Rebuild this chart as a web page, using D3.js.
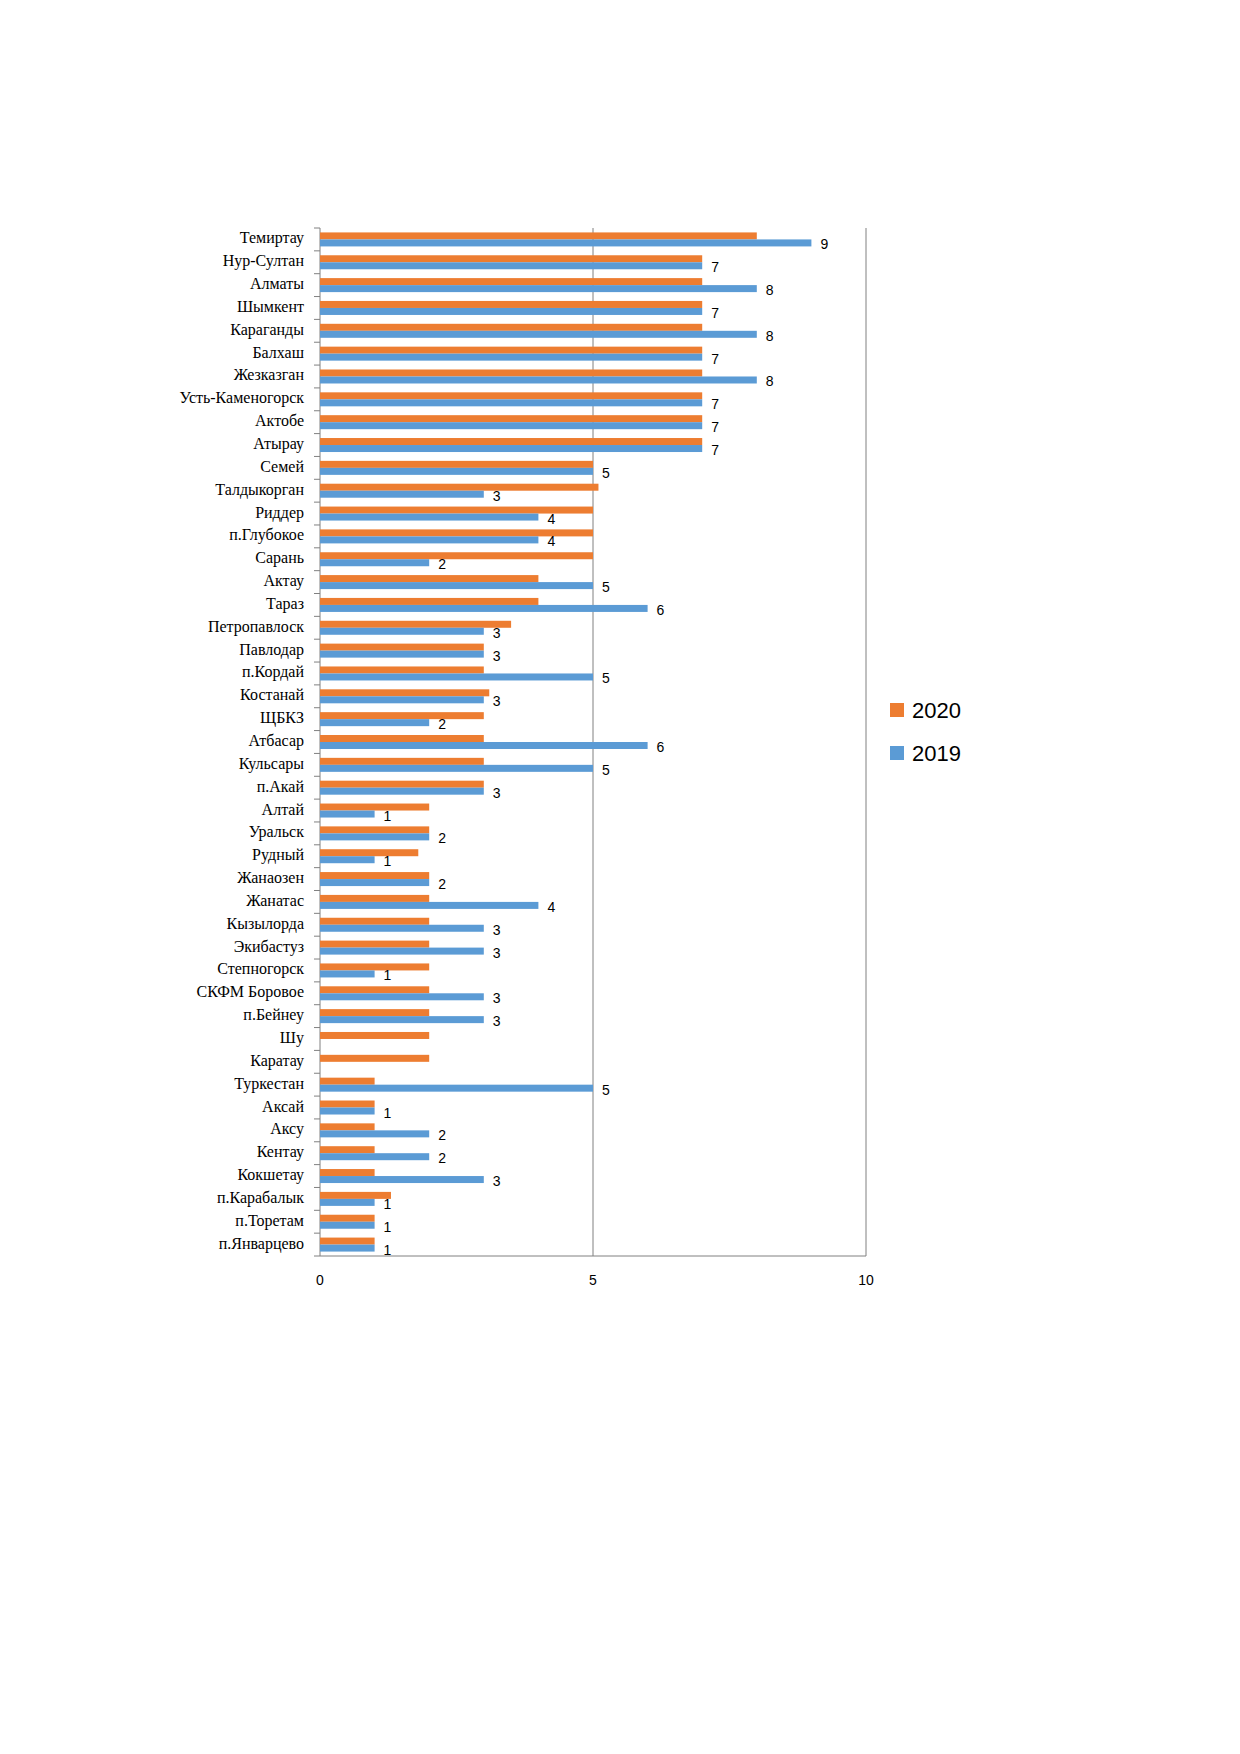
<!DOCTYPE html><html><head><meta charset="utf-8">
<script src="https://cdn.jsdelivr.net/npm/d3@7"></script>
<style>body{margin:0;background:#fff}</style></head><body><svg id="c" width="1240" height="1754"></svg>
<script>
const categories=["Темиртау","Нур-Султан","Алматы","Шымкент","Караганды","Балхаш","Жезказган","Усть-Каменогорск","Актобе","Атырау","Семей","Талдыкорган","Риддер","п.Глубокое","Сарань","Актау","Тараз","Петропавлоск","Павлодар","п.Кордай","Костанай","ЩБКЗ","Атбасар","Кульсары","п.Акай","Алтай","Уральск","Рудный","Жанаозен","Жанатас","Кызылорда","Экибастуз","Степногорск","СКФМ  Боровое","п.Бейнеу","Шу","Каратау","Туркестан","Аксай","Аксу","Кентау","Кокшетау","п.Карабалык","п.Торетам","п.Январцево"];
const v2020=[8,7,7,7,7,7,7,7,7,7,5,5.1,5,5,5,4,4,3.5,3,3,3.1,3,3,3,3,2,2,1.8,2,2,2,2,2,2,2,2,2,1,1,1,1,1,1.3,1,1];
const v2019=[9,7,8,7,8,7,8,7,7,7,5,3,4,4,2,5,6,3,3,5,3,2,6,5,3,1,2,1,2,4,3,3,1,3,3,null,null,5,1,2,2,3,1,1,1];
const ticks=[0,5,10];
const svg=d3.select("#c");
const x=d3.scaleLinear().domain([0,10]).range([320,866]);
const y=d3.scaleBand().domain(categories).range([228,1256]);
const bh=7;
svg.selectAll(".g").data(ticks).join("line").attr("x1",d=>x(d)).attr("x2",d=>x(d)).attr("y1",228).attr("y2",1256).attr("stroke","#808080").attr("stroke-width",1);
svg.append("line").attr("x1",320).attr("x2",866).attr("y1",1256).attr("y2",1256).attr("stroke","#808080");
svg.selectAll(".t").data(categories.concat(["_end"])).join("line").attr("x1",314).attr("x2",320)
 .attr("y1",(d,i)=>228+i*y.step()).attr("y2",(d,i)=>228+i*y.step()).attr("stroke","#808080");
categories.forEach((c,i)=>{
 const yc=y(c)+y.bandwidth()/2;
 svg.append("rect").attr("x",x(0)).attr("y",yc-bh).attr("width",x(v2020[i])-x(0)).attr("height",bh).attr("fill","#ED7D31");
 if(v2019[i]!=null){
  svg.append("rect").attr("x",x(0)).attr("y",yc).attr("width",x(v2019[i])-x(0)).attr("height",bh).attr("fill","#5B9BD5");
  svg.append("text").attr("x",x(v2019[i])+9).attr("y",yc+10).attr("font-family","Liberation Sans, Arial").attr("font-size",14).attr("fill","#000").text(v2019[i]);
 }
 svg.append("text").attr("x",304).attr("y",yc+4).attr("text-anchor","end").attr("font-family","Liberation Serif, Times New Roman").attr("font-size",16).text(c);
});
svg.selectAll(".xl").data(ticks).join("text").attr("x",d=>x(d)).attr("y",1285).attr("text-anchor","middle").attr("font-family","Liberation Sans, Arial").attr("font-size",14).text(d=>d);
[["2020","#ED7D31",710],["2019","#5B9BD5",753]].forEach(([t,c,yy])=>{
 svg.append("rect").attr("x",890).attr("y",yy-7).attr("width",14).attr("height",14).attr("fill",c);
 svg.append("text").attr("x",912).attr("y",yy+8).attr("font-family","Liberation Sans, Arial").attr("font-size",22).text(t);
});
</script></body></html>
